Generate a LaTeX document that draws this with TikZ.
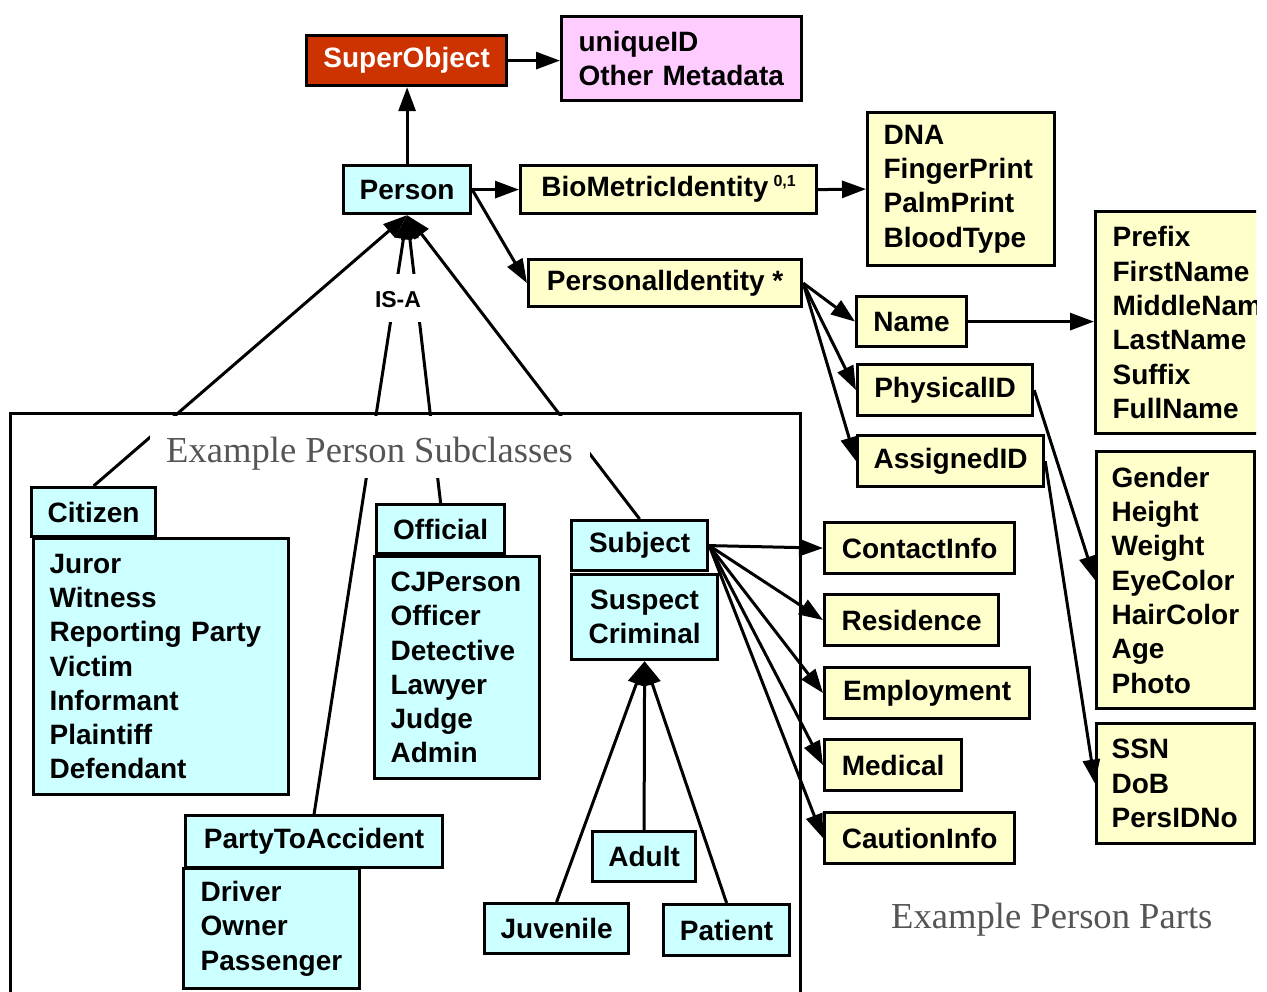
\documentclass[tikz,border=0pt]{standalone}
\usepackage{fontspec}
\setmainfont{Liberation Sans}
\newfontfamily\serifface{Liberation Serif}
\usetikzlibrary{arrows.meta,calc}
\definecolor{cyanfill}{HTML}{CCFFFF}
\definecolor{yelfill}{HTML}{FFFFCC}
\definecolor{pinkfill}{HTML}{FFCCFF}
\definecolor{redfill}{HTML}{CC3300}
\definecolor{labelgray}{HTML}{555555}
\begin{document}
\begin{tikzpicture}[x=1pt,y=-1pt,
 bx/.style={draw=black, line width=3.2pt, inner sep=0pt, anchor=north west, text=black,
   font=\bfseries\fontsize{28}{34.3}\selectfont},
 cy/.style={bx, fill=cyanfill},
 yl/.style={bx, fill=yelfill},
 lst/.style={align=left, inner xsep=16pt},
 arr/.style={line width=3pt, -{Triangle[length=24pt,width=17pt]}},
 caption/.style={font=\serifface\fontsize{36.6}{40}\selectfont, text=labelgray, anchor=base west, inner sep=0pt},
 isa/.style={font=\bfseries\fontsize{23}{24}\selectfont, inner sep=0pt}
]
\useasboundingbox (0,0) rectangle (1267,992);
\begin{scope}
\clip (0,0) rectangle (1256,992);
% frame of the subclasses
\draw[line width=3pt] (10,1010) -- (10,413) -- (800,413) -- (800,1010);

% top
\node[bx, fill=redfill, text=white, minimum width=200, minimum height=50] (super) at (305,34) {SuperObject};
\node[bx, fill=pinkfill, lst, inner xsep=17pt, text width=206, minimum height=84] (uid) at (560,15) {uniqueID\\Other Metadata};
\node[cy, minimum width=127, minimum height=48] (person) at (342,164) {Person};
\node[yl, minimum width=296, minimum height=48] (bio) at (519,164)
  {BioMetricIdentity\hspace{5pt}\raisebox{10pt}[0pt][0pt]{\fontsize{16}{16}\selectfont 0,1}};
\node[yl, lst, text width=155, minimum height=153] (dna) at (866,111) {DNA\\FingerPrint\\PalmPrint\\BloodType};
\node[yl, minimum width=273, minimum height=47] (pid) at (527,258) {PersonalIdentity *};
\node[yl, minimum width=110, minimum height=50] (name) at (855,295) {Name};
\node[yl, minimum width=175, minimum height=51] (phys) at (856,363) {PhysicalID};
\node[yl, minimum width=186, minimum height=51] (asg) at (856,434) {AssignedID};
\node[yl, lst, inner xsep=17pt, text width=200, minimum height=222] (prefix) at (1094,210)
  {Prefix\\FirstName\\MiddleName\\LastName\\Suffix\\FullName};
\node[yl, lst, inner xsep=15pt, text width=128, minimum height=257] (gender) at (1095,450)
  {Gender\\Height\\Weight\\EyeColor\\HairColor\\Age\\Photo};
\node[yl, lst, inner xsep=15pt, text width=128, minimum height=120] (ssn) at (1095,722)
  {SSN\\DoB\\PersIDNo};

% subclasses
\node[cy, minimum width=124, minimum height=49] (citizen) at (30,486) {Citizen};
\node[cy, lst, text width=223, minimum height=256] (citlist) at (32,537)
  {Juror\\Witness\\Reporting Party\\Victim\\Informant\\Plaintiff\\Defendant};
\node[cy, minimum width=128, minimum height=49] (official) at (375,503) {Official};
\node[cy, lst, text width=133, minimum height=222] (offlist) at (373,555)
  {CJPerson\\Officer\\Detective\\Lawyer\\Judge\\Admin};
\node[cy, minimum width=136, minimum height=50] (subject) at (570,519) {Subject};
\node[cy, align=center, minimum width=146, minimum height=85] (subjlist) at (570,573) {Suspect\\Criminal};
\node[cy, minimum width=257, minimum height=52] (party) at (184,814) {PartyToAccident};
\node[cy, lst, inner xsep=17pt, text width=142, minimum height=120] (drvlist) at (182,867)
  {Driver\\Owner\\Passenger};
\node[cy, minimum width=103, minimum height=50] (adult) at (591,830) {Adult};
\node[cy, minimum width=144, minimum height=50] (juv) at (483,902) {Juvenile};
\node[cy, minimum width=126, minimum height=51] (pat) at (662,903) {Patient};

% parts of subject
\node[yl, minimum width=190, minimum height=51] (contact) at (823,521) {ContactInfo};
\node[yl, minimum width=174, minimum height=51] (res) at (823,593) {Residence};
\node[yl, minimum width=205, minimum height=51] (emp) at (823,666) {Employment};
\node[yl, minimum width=137, minimum height=51] (med) at (823,738) {Medical};
\node[yl, minimum width=190, minimum height=51] (caut) at (823,811) {CautionInfo};

% connectors
\draw[arr] (super.east) -- (super.east -| uid.west);
\draw[arr] (person.north) -- (person.north |- super.south);
\draw[arr] (person.east) -- (bio.west);
\draw[arr] (person.east) -- (pid.west);
\draw[arr] (bio.east) -- (dna.west);
\draw[arr] (pid.east) -- (name.west);
\draw[arr] (pid.east) -- (phys.west);
\draw[arr] (pid.east) -- (asg.west);
\draw[arr] (name.east) -- (name.east -| prefix.west);
\draw[arr] (phys.east) -- (gender.west);
\draw[arr] (asg.east) -- (ssn.west);

\draw[arr] (citizen.north) -- (person.south);
\draw[arr] (party.north) -- (person.south);
\draw[arr] (official.north) -- (person.south);
\draw[arr] (subject.north) -- (person.south);

\draw[arr] (juv.north) -- (subjlist.south);
\draw[arr] (adult.north) -- (subjlist.south);
\draw[arr] (pat.north) -- (subjlist.south);

\draw[arr] (subject.east) -- (contact.west);
\draw[arr] (subject.east) -- (res.west);
\draw[arr] (subject.east) -- (emp.west);
\draw[arr] (subject.east) -- (med.west);
\draw[arr] (subject.east) -- (caut.west);

% gaps behind the labels
\fill[white] (150,416) rectangle (590,478);
\fill[white] (378,274) rectangle (426,322);
\node[caption] (subcap) at (166,462) {Example Person Subclasses};
\node[isa] (isalabel) at (398,300) {IS-A};
\node[caption] (partcap) at (891,928) {Example Person Parts};
\end{scope}
\end{tikzpicture}
\end{document}
